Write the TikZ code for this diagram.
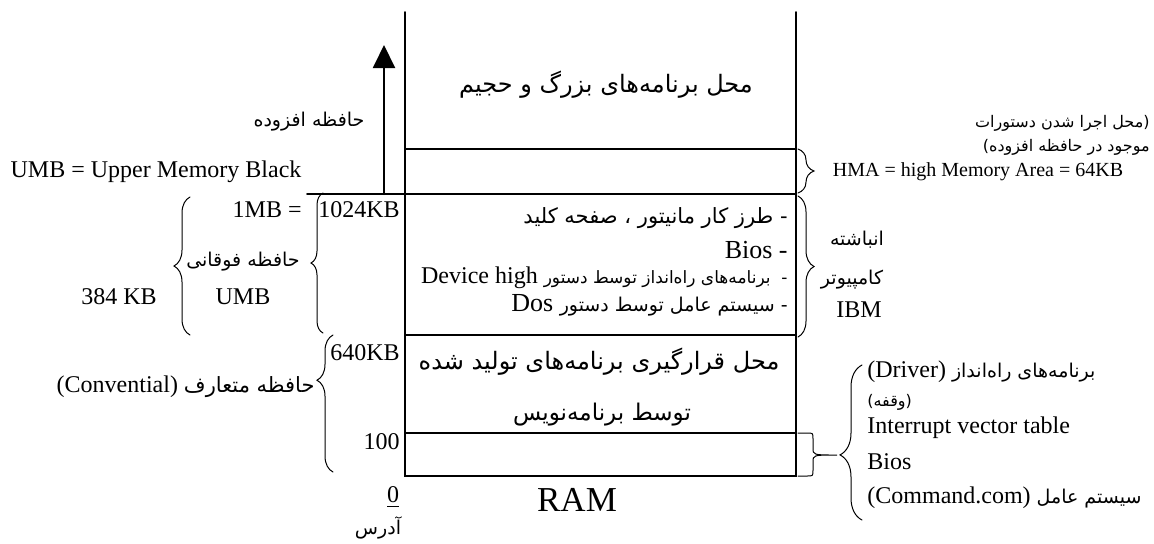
\documentclass[tikz,border=0pt]{standalone}
\usepackage{fontspec}
\setmainfont{Liberation Serif}
\newfontfamily\fafont[Script=Arabic]{DejaVu Sans}
\TeXXeTstate=1
\usepackage{tikz}
\usetikzlibrary{arrows.meta,decorations.pathreplacing}
\newcommand{\fa}[2][9.5pt]{{\fafont\fontsize{#1}{#1}\selectfont\beginR #2\endR}}
\newcommand{\sz}[1]{\fontsize{#1}{#1}\selectfont}

\begin{document}
\begin{tikzpicture}[x=0.5pt, y=-0.5pt, line cap=round,
	memline/.style={line width=1pt},
	txt/.style={inner sep=0pt, font=\sz{12pt}},
	curly/.style 2 args={decorate, decoration={brace, amplitude=#1, aspect=#2}, line width=0.5pt}
]
	\useasboundingbox (0,0) rectangle (1154,543);
	% memory column
	\coordinate (tl) at (405,12);
	\coordinate (tr) at (796,12);
	\coordinate (bl) at (405,476);
	\coordinate (br) at (796,476);
	\draw[memline] (tl) -- (bl) -- (br) -- (tr);
	\foreach \y/\n in {149/hma, 194/mb, 335/kb, 433/hund}{
		\coordinate (\n-l) at (405,\y);
		\coordinate (\n-r) at (796,\y);
		\draw[memline] (\n-l) -- (\n-r);
	}
	\coordinate (mbx) at (307,194);
	\draw[memline] (mbx) -- (mb-l);
	% extended memory arrow
	\coordinate (arrfoot) at (384,194);
	\coordinate (arrtip) at (384,45);
	\draw[-{Triangle[length=11.5pt,width=11pt]}, line width=1pt] (arrfoot) -- (arrtip);

	% texts inside the column
	\node[txt] (bigprog) at (606,85) {\fa[12pt]{محل برنامه‌های بزرگ و حجیم}};
	\node[txt, anchor=east] (row1) at (788,218) {\fa[10.5pt]{- طرز کار مانیتور ، صفحه کلید}};
	\node[txt, anchor=east, font=\sz{13pt}] (row2) at (788,250) {Bios -};
	\node[txt, anchor=east] (row3) at (788,278) {Device high \fa[8.5pt]{-\ \ برنامه‌های راه‌انداز توسط دستور}};
	\node[txt, anchor=east, font=\sz{13pt}] (row4) at (788,305) {Dos \fa[9.5pt]{- سیستم عامل توسط دستور}};
	\node[txt] (conv1) at (599,362) {\fa[12pt]{محل قرارگیری برنامه‌های تولید شده}};
	\node[txt] (conv2) at (602,415) {\fa[11.5pt]{توسط برنامه‌نویس}};
	\node[txt, font=\sz{17.5pt}] (ram) at (577,500) {RAM};

	% left side
	\node[txt] (extmem) at (309,122) {\fa{حافظه افزوده}};
	\node[txt] (umbdef) at (156,172) {UMB = Upper Memory Black};
	\node[txt, anchor=east] (onemb) at (302,210) {1MB =};
	\node[txt, anchor=east] (k1024) at (400,210) {1024KB};
	\node[txt] (upper) at (243,262) {\fa{حافظه فوقانی}};
	\node[txt] (umb) at (243,297) {UMB};
	\node[txt] (k384) at (119,297) {384 KB};
	\node[txt, anchor=east] (k640) at (400,353) {640KB};
	\node[txt, anchor=east] (conv) at (315,387) {(Convential) \fa[10.5pt]{حافظه متعارف}};
	\node[txt, anchor=east] (h100) at (400,442) {100};
	\node[txt] (zero) at (393,497) {\underline{0}};
	\node[txt] (addr) at (378,528) {\fa{آدرس}};

	% right side
	\node[txt, anchor=east] (hmanote1) at (1150,123) {\fa[8pt]{(محل اجرا شدن دستورات}};
	\node[txt, anchor=east] (hmanote2) at (1150,147) {\fa[8pt]{موجود در حافظه افزوده)}};
	\node[txt, font=\sz{10pt}] (hma) at (978,172) {HMA = high Memory Area = 64KB};
	\node[txt] (stack1) at (857,240) {\fa{انباشته}};
	\node[txt] (stack2) at (852,280) {\fa{کامپیوتر}};
	\node[txt] (ibm) at (859,310) {IBM};
	\node[txt, anchor=west] (drv) at (867,372) {(Driver) \fa{برنامه‌های راه‌انداز}};
	\node[txt, anchor=west] (vaghfe) at (867,402) {\fa[8pt]{(وقفه)}};
	\node[txt, anchor=west] (ivt) at (867,428) {Interrupt vector table};
	\node[txt, anchor=west] (bios) at (867,462) {Bios};
	\node[txt, anchor=west] (cmd) at (867,498) {(Command.com) \fa{سیستم عامل}};

	% braces
	\coordinate (umbtop) at (323,193);
	\coordinate (umbbot) at (323,333);
	\draw[curly={6pt}{0.5}] (umbbot) -- (umbtop);
	\coordinate (sztop) at (190,197);
	\coordinate (szbot) at (190,335);
	\draw[curly={8pt}{0.5}] (szbot) -- (sztop);
	\coordinate (convtop) at (333,335);
	\coordinate (convbot) at (333,472);
	\draw[curly={8pt}{0.67}] (convbot) -- (convtop);
	\coordinate (hmatop) at (798,149);
	\coordinate (hmabot) at (798,193);
	\draw[curly={8pt}{0.5}] (hmatop) -- (hmabot);
	\coordinate (ibmtop) at (798,196);
	\coordinate (ibmbot) at (798,337);
	\draw[curly={8pt}{0.5}] (ibmtop) -- (ibmbot);
	\coordinate (ivttip) at (837,455);
	\draw[line width=0.5pt] (798,433) -- (807,433) .. controls (813,433) .. (813,439) -- (813,448)
		.. controls (813,455) .. (ivttip) .. controls (813,455) .. (813,462) -- (813,470)
		.. controls (813,476) .. (807,476) -- (798,476);
	\coordinate (drvtop) at (862,365);
	\coordinate (drvbot) at (862,520);
	\draw[curly={11pt}{0.42}] (drvbot) -- (drvtop);
\end{tikzpicture}
\end{document}
